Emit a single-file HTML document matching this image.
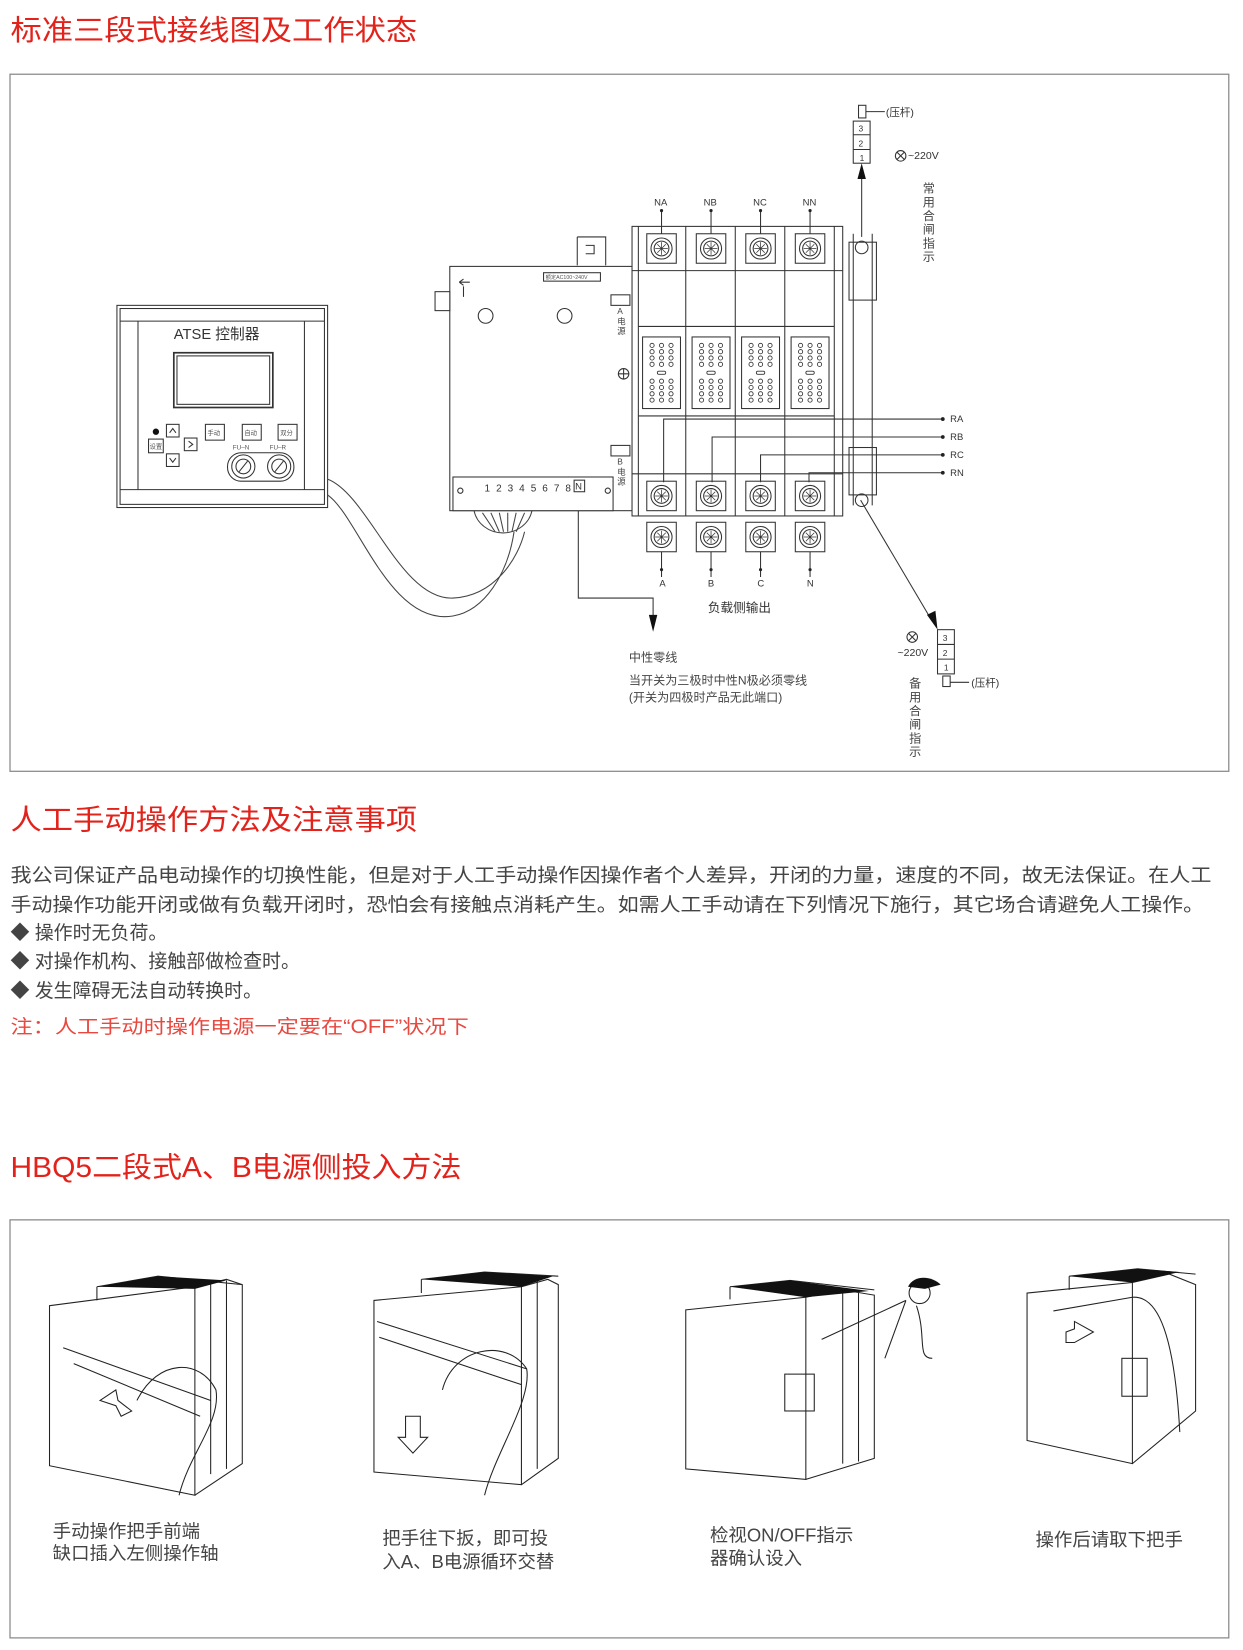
<!DOCTYPE html>
<html><head><meta charset="utf-8"><style>
html,body{margin:0;padding:0;background:#fff;}
svg{display:block;}
</style></head><body>
<svg width="1243" height="1650" viewBox="0 0 1180 1567" preserveAspectRatio="none" xmlns="http://www.w3.org/2000/svg" font-family="Liberation Sans, Noto Sans CJK SC, sans-serif">
<defs>
<g id="term">
  <rect x="-14" y="-14" width="28" height="28" fill="#fff" stroke="#333" stroke-width="1"/>
  <circle r="10" fill="none" stroke="#333"/><circle r="7" fill="none" stroke="#333"/>
  <path d="M-6 0H6M0 -6V6M-4 -4L4 4M-4 4L4 -4" stroke="#333" stroke-width="0.7"/>
</g>
<g id="mod">
  <rect x="-18" y="-34" width="36" height="68" fill="#fff" stroke="#333"/>
  <g fill="none" stroke="#333" stroke-width="0.8">
  <circle cx="-9" cy="-26" r="2"/><circle cx="0" cy="-26" r="2"/><circle cx="9" cy="-26" r="2"/>
  <circle cx="-9" cy="-20" r="2"/><circle cx="0" cy="-20" r="2"/><circle cx="9" cy="-20" r="2"/>
  <circle cx="-9" cy="-14" r="2"/><circle cx="0" cy="-14" r="2"/><circle cx="9" cy="-14" r="2"/>
  <circle cx="-9" cy="-8" r="2"/><circle cx="0" cy="-8" r="2"/><circle cx="9" cy="-8" r="2"/>
  <rect x="-4" y="-1.5" width="8" height="3" rx="1.5"/>
  <circle cx="-9" cy="8" r="2"/><circle cx="0" cy="8" r="2"/><circle cx="9" cy="8" r="2"/>
  <circle cx="-9" cy="14" r="2"/><circle cx="0" cy="14" r="2"/><circle cx="9" cy="14" r="2"/>
  <circle cx="-9" cy="20" r="2"/><circle cx="0" cy="20" r="2"/><circle cx="9" cy="20" r="2"/>
  <circle cx="-9" cy="26" r="2"/><circle cx="0" cy="26" r="2"/><circle cx="9" cy="26" r="2"/>
  </g>
</g>
</defs>

<text x="10" y="38" font-size="27" fill="#e3231b" textLength="386" lengthAdjust="spacingAndGlyphs">标准三段式接线图及工作状态</text>
<rect x="9.5" y="70.5" width="1157" height="662" fill="none" stroke="#8a8a8a" stroke-width="1.2"/>

<g stroke="#333" fill="none" stroke-width="1">
  <rect x="111" y="290" width="200" height="192" fill="#fff"/>
  <rect x="114" y="293" width="194" height="186"/>
  <line x1="131" y1="305" x2="131" y2="465"/><line x1="289" y1="305" x2="289" y2="465"/>
  <line x1="114" y1="305" x2="308" y2="305"/><line x1="114" y1="465" x2="308" y2="465"/>
  <rect x="165" y="335" width="94" height="52" stroke-width="1.6"/>
  <rect x="168" y="338" width="88" height="46"/>
  <rect x="158" y="403" width="12" height="12"/><rect x="158" y="431" width="12" height="12"/>
  <rect x="175" y="416" width="12" height="12"/><rect x="141" y="417" width="14" height="13"/>
  <rect x="195" y="403" width="18" height="15"/><rect x="230" y="403" width="18" height="15"/><rect x="264" y="403" width="18" height="15"/>
  <rect x="216" y="430" width="63" height="27" rx="13"/>
  <circle cx="231" cy="443" r="11"/><circle cx="231" cy="443" r="7"/><line x1="227" y1="448" x2="235" y2="438"/>
  <circle cx="265" cy="443" r="11"/><circle cx="265" cy="443" r="7"/><line x1="261" y1="448" x2="269" y2="438"/>
  <path d="M161 411l3-4 3 4M161 435l3 4 3-4M179 419l4 3-4 3"/>
</g>
<circle cx="148" cy="410" r="3" fill="#111"/>
<text x="165" y="322" font-size="14" fill="#333">ATSE 控制器</text>
<g font-size="6" fill="#555"><text x="197" y="413">手动</text><text x="232" y="413">自动</text><text x="266" y="413">双分</text><text x="142" y="426">设置</text>
<text x="221" y="427">FU–N</text><text x="256" y="427">FU–R</text></g>

<g stroke="#444" fill="none" stroke-width="1">
<path d="M311 455 C350 470,380 570,430 568 C470 566,492 530,498 505"/>
<path d="M311 470 C340 490,370 595,430 585 C460 580,482 545,488 505"/>
<path d="M450 485 A28 26 0 0 0 505 485"/>
<path d="M458 487 L470 505M466 487L474 505M474 487L478 505M482 487L482 505M490 487L486 505M498 487L490 505"/>
</g>

<g stroke="#333" fill="none" stroke-width="1">
  <rect x="427" y="253" width="173" height="232" fill="#fff"/>
  <rect x="413" y="277" width="14" height="18" fill="#fff"/>
  <path d="M548 225V252M548 225H575V252M556 233h8v8h-8"/>
  <rect x="430" y="453" width="152" height="32" fill="#fff"/>
  <circle cx="437" cy="466" r="2.5"/><circle cx="577" cy="466" r="2.5"/>
  <rect x="545" y="456" width="10" height="11"/>
  <circle cx="461" cy="300" r="7"/><circle cx="536" cy="300" r="7"/>
  <rect x="516" y="259" width="54" height="8"/>
  <rect x="580" y="280" width="18" height="10"/><rect x="580" y="423" width="18" height="10"/>
  <circle cx="592" cy="355" r="5"/><path d="M587 355h10M592 350v10"/>
  <path d="M436 268h10M436 268l4-3M436 268l4 3M440 272v10"/>
</g>
<text x="518" y="265" font-size="5" fill="#555">额定AC100~240V</text>
<text x="460" y="467" font-size="9.5" fill="#333" textLength="82">1 2 3 4 5 6 7 8</text>
<text x="546" y="465" font-size="9" fill="#333">N</text>
<g font-size="8" fill="#444"><text x="586" y="298">A</text><text x="586" y="308">电</text><text x="586" y="317">源</text>
<text x="586" y="441">B</text><text x="586" y="451">电</text><text x="586" y="460">源</text></g>

<g stroke="#333" fill="none" stroke-width="1">
  <rect x="600" y="215" width="200" height="275" fill="#fff"/>
  <line x1="600" y1="257" x2="800" y2="257"/><line x1="600" y1="450" x2="800" y2="450"/>
  <line x1="651" y1="215" x2="651" y2="490"/><line x1="698" y1="215" x2="698" y2="490"/><line x1="745" y1="215" x2="745" y2="490"/>
  <line x1="606" y1="215" x2="606" y2="490"/><line x1="792" y1="215" x2="792" y2="490"/>
  <line x1="606" y1="310" x2="792" y2="310"/><line x1="606" y1="395" x2="792" y2="395"/>
  <rect x="806" y="230" width="26" height="55"/><rect x="806" y="425" width="26" height="45"/>
  <line x1="810" y1="222" x2="810" y2="480"/><line x1="828" y1="222" x2="828" y2="480"/>
  <circle cx="818" cy="235" r="6"/><circle cx="818" cy="475" r="6"/>
</g>
<g>
  <use href="#term" x="628" y="236"/><use href="#term" x="675" y="236"/><use href="#term" x="722" y="236"/><use href="#term" x="769" y="236"/>
  <use href="#mod" x="628" y="354"/><use href="#mod" x="675" y="354"/><use href="#mod" x="722" y="354"/><use href="#mod" x="769" y="354"/>
  <use href="#term" x="628" y="471"/><use href="#term" x="675" y="471"/><use href="#term" x="722" y="471"/><use href="#term" x="769" y="471"/>
  <use href="#term" x="628" y="510"/><use href="#term" x="675" y="510"/><use href="#term" x="722" y="510"/><use href="#term" x="769" y="510"/>
</g>
<g stroke="#333" stroke-width="1" fill="none">
  <path d="M628 200V222M675 200V222M722 200V222M769 200V222"/>
  <path d="M628 524V548M675 524V548M722 524V548M769 524V548"/>
  <path d="M630 458V398H895M676 458V415H895M722 458V432H895M768 458V449H895"/>
</g>
<g fill="#222"><circle cx="628" cy="200" r="1.5"/><circle cx="675" cy="200" r="1.5"/><circle cx="722" cy="200" r="1.5"/><circle cx="769" cy="200" r="1.5"/>
<circle cx="628" cy="541" r="1.5"/><circle cx="675" cy="541" r="1.5"/><circle cx="722" cy="541" r="1.5"/><circle cx="769" cy="541" r="1.5"/>
<circle cx="895" cy="398" r="1.8"/><circle cx="895" cy="415" r="1.8"/><circle cx="895" cy="432" r="1.8"/><circle cx="895" cy="449" r="1.8"/></g>
<g font-size="9" fill="#333">
<text x="621" y="195">NA</text><text x="668" y="195">NB</text><text x="715" y="195">NC</text><text x="762" y="195">NN</text>
<text x="626" y="557">A</text><text x="672" y="557">B</text><text x="719" y="557">C</text><text x="766" y="557">N</text>
<text x="902" y="401">RA</text><text x="902" y="418">RB</text><text x="902" y="435">RC</text><text x="902" y="452">RN</text>
</g>
<text x="672" y="581" font-size="12" fill="#333">负载侧输出</text>

<g stroke="#333" fill="none" stroke-width="1">
  <rect x="810" y="115" width="16" height="40" fill="#fff"/><line x1="810" y1="128" x2="826" y2="128"/><line x1="810" y1="142" x2="826" y2="142"/>
  <rect x="815" y="100" width="7" height="12"/><line x1="822" y1="106" x2="840" y2="106"/>
  <line x1="818" y1="225" x2="818" y2="168"/>
  <circle cx="855" cy="148" r="5"/><path d="M851.5 144.5l7 7M858.5 144.5l-7 7"/>
  <path d="M817 475 L885 590"/>
  <rect x="890" y="598" width="16" height="42" fill="#fff"/><line x1="890" y1="612" x2="906" y2="612"/><line x1="890" y1="626" x2="906" y2="626"/>
  <rect x="895" y="642" width="7" height="10"/><line x1="902" y1="648" x2="920" y2="648"/>
  <circle cx="866" cy="605" r="5"/><path d="M862.5 601.5l7 7M869.5 601.5l-7 7"/>
  <path d="M549 485V568H620V585"/>
</g>
<path d="M818 155 L814 170 L822 170Z" fill="#111"/>
<path d="M890 598 L880 584 L888 580Z" fill="#111"/>
<path d="M620 600 L616 584 L624 584Z" fill="#111"/>
<g font-size="8" fill="#333"><text x="815" y="125">3</text><text x="815" y="139">2</text><text x="816" y="153">1</text>
<text x="895" y="609">3</text><text x="895" y="623">2</text><text x="896" y="637">1</text></g>
<g font-size="10" fill="#333"><text x="841" y="110">(压杆)</text><text x="862" y="151">~220V</text><text x="922" y="652">(压杆)</text><text x="852" y="623">~220V</text></g>
<g font-size="11.5" fill="#444"><text x="876" y="183">常</text><text x="876" y="196">用</text><text x="876" y="209">合</text><text x="876" y="222">闸</text><text x="876" y="235">指</text><text x="876" y="248">示</text>
<text x="863" y="653">备</text><text x="863" y="666">用</text><text x="863" y="679">合</text><text x="863" y="692">闸</text><text x="863" y="705">指</text><text x="863" y="718">示</text></g>
<g font-size="11.5" fill="#444"><text x="597" y="628">中性零线</text><text x="597" y="650">当开关为三极时中性N极必须零线</text><text x="597" y="666">(开关为四极时产品无此端口)</text></g>

<text x="10" y="788" font-size="27" fill="#e3231b" textLength="386" lengthAdjust="spacingAndGlyphs">人工手动操作方法及注意事项</text>
<g font-size="18" fill="#444">
<text x="10" y="837" textLength="1140" lengthAdjust="spacingAndGlyphs">我公司保证产品电动操作的切换性能，但是对于人工手动操作因操作者个人差异，开闭的力量，速度的不同，故无法保证。在人工</text>
<text x="10" y="865" textLength="1133" lengthAdjust="spacingAndGlyphs">手动操作功能开闭或做有负载开闭时，恐怕会有接触点消耗产生。如需人工手动请在下列情况下施行，其它场合请避免人工操作。</text>
<text x="10" y="892">◆ 操作时无负荷。</text>
<text x="10" y="919">◆ 对操作机构、接触部做检查时。</text>
<text x="10" y="947">◆ 发生障碍无法自动转换时。</text>
</g>
<text x="10" y="981" font-size="18" fill="#e8483f" textLength="435" lengthAdjust="spacingAndGlyphs">注：人工手动时操作电源一定要在“OFF”状况下</text>

<text x="10" y="1118" font-size="27" fill="#e3231b" textLength="428" lengthAdjust="spacingAndGlyphs">HBQ5二段式A、B电源侧投入方法</text>
<rect x="9.5" y="1158.5" width="1157" height="397" fill="none" stroke="#8a8a8a" stroke-width="1.2"/>

<g stroke="#222" fill="none" stroke-width="1">
 <path d="M47 1240 L185 1222 L185 1420 L47 1392Z" fill="#fff"/>
 <path d="M185 1222 L215 1215 L230 1220 L230 1390 L185 1420"/>
 <path d="M92 1222 L150 1212 L230 1220 M92 1222V1235 M200 1218V1400 M215 1216V1395"/>
 <path d="M60 1280 L200 1330 M70 1295 L190 1345"/>
 <path d="M95 1330 L110 1320 L112 1330 L125 1340 L115 1345 L110 1335Z"/>
 <path d="M130 1330 C150 1290,190 1290,205 1320 C210 1350,180 1380,170 1420"/>
 <path d="M355 1235 L495 1222 L495 1410 L355 1398Z" fill="#fff"/>
 <path d="M495 1222 L520 1215 L530 1220 L530 1385 L495 1410"/>
 <path d="M400 1215 L460 1208 L530 1212 M400 1215V1228 M510 1215V1395"/>
 <path d="M358 1255 L500 1300 M360 1270 L495 1315"/>
 <path d="M385 1345 V1365 H378 L392 1380 L406 1365 H399 V1345Z"/>
 <path d="M420 1320 C430 1280,480 1270,500 1300 C505 1330,470 1380,460 1420"/>
 <path d="M651 1244 L765 1232 L765 1405 L651 1395Z" fill="#fff"/>
 <path d="M765 1232 L800 1225 L830 1230 L830 1385 L765 1405"/>
 <path d="M693 1222 L750 1216 L830 1225 M693 1222V1234 M800 1226V1390 M815 1228V1388"/>
 <rect x="745" y="1305" width="28" height="35"/>
 <path d="M780 1272 L860 1235 M860 1235 L840 1290 M870 1240 C880 1270,870 1290,885 1290"/>
 <circle cx="873" cy="1228" r="10"/>
 <path d="M975 1228 L1075 1218 L1075 1390 L975 1368Z" fill="#fff"/>
 <path d="M1075 1218 L1110 1210 L1135 1220 L1135 1340 L1075 1390"/>
 <path d="M1015 1212 L1080 1205 L1135 1210 M1015 1212V1225"/>
 <rect x="1065" y="1290" width="24" height="36"/>
 <path d="M1012 1265 V1275 H1020 L1038 1265 L1020 1255 V1262Z"/>
 <path d="M1000 1245 L1075 1232 C1100 1230,1115 1270,1120 1360"/>
</g>
<g fill="#111">
 <path d="M92 1222 L150 1212 L215 1216 L185 1224Z"/>
 <path d="M400 1215 L460 1208 L525 1212 L495 1222Z"/>
 <path d="M693 1222 L750 1216 L825 1226 L765 1232Z"/>
 <path d="M1015 1212 L1080 1205 L1120 1208 L1075 1218Z"/>
 <path d="M862 1222 C868 1210,885 1212,893 1220 L878 1224Z"/>
</g>
<g font-size="17.5" fill="#444">
<text x="50" y="1460">手动操作把手前端</text><text x="50" y="1481">缺口插入左侧操作轴</text>
<text x="363" y="1467">把手往下扳，即可投</text><text x="363" y="1489">入A、B电源循环交替</text>
<text x="674" y="1464">检视ON/OFF指示</text><text x="674" y="1486">器确认设入</text>
<text x="983" y="1468">操作后请取下把手</text>
</g>
</svg>
</body></html>
